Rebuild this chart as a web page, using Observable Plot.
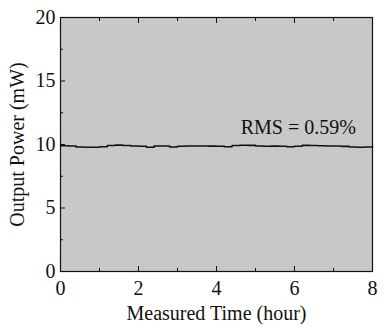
<!DOCTYPE html>
<html>
<head>
<meta charset="utf-8">
<script src="https://cdn.jsdelivr.net/npm/d3@7"></script>
<script src="https://cdn.jsdelivr.net/npm/@observablehq/plot@0.6"></script>
<style>
  html, body { margin: 0; padding: 0; background: #fff; }
  #chart svg { display: block; }
</style>
</head>
<body>
<div id="chart"></div>
<script>
// Measured time (hours) and output power (mW)
const timeHours = [0, 0.2, 0.4, 0.6, 0.8, 1.0, 1.2, 1.4, 1.6, 1.8, 2.0, 2.2, 2.4, 2.6, 2.8, 3.0, 3.2, 3.4, 3.6, 3.8, 4.0,
  4.2, 4.4, 4.6, 4.8, 5.0, 5.2, 5.4, 5.6, 5.8, 6.0, 6.2, 6.4, 6.6, 6.8, 7.0, 7.2, 7.4, 7.6, 7.8, 8.0];
const powerMW = [9.9, 9.88, 9.8, 9.78, 9.78, 9.82, 9.92, 9.95, 9.92, 9.88, 9.86, 9.78, 9.88, 9.88, 9.8, 9.86, 9.88, 9.88, 9.88, 9.87, 9.86,
  9.82, 9.92, 9.94, 9.93, 9.88, 9.86, 9.87, 9.86, 9.82, 9.86, 9.93, 9.92, 9.9, 9.88, 9.88, 9.85, 9.8, 9.78, 9.8, 9.88];

const xMajorTicks = [0, 2, 4, 6, 8];
const xMinorTicks = [1, 3, 5, 7];
const yMajorTicks = [0, 5, 10, 15, 20];
const yMinorTicks = [2.5, 7.5, 12.5, 17.5];

const annotationText = ["RMS = 0.59%"];
const annotationX = [4.62];
const annotationY = [11.3];

const data = timeHours.map((t, i) => ({t, p: powerMW[i]}));
const notes = annotationText.map((s, i) => ({s, x: annotationX[i], y: annotationY[i]}));

const FONT = "Liberation Serif";

const chart = Plot.plot({
  width: 390,
  height: 330,
  marginLeft: 60,
  marginRight: 18,
  marginTop: 17,
  marginBottom: 59,
  style: {fontSize: "20px", color: "#111", background: "#fff"},
  x: {domain: [0, 8]},
  y: {domain: [0, 20]},
  marks: [
    Plot.frame({fill: "#c8c8c8", stroke: "none"}),
    Plot.line(data, {x: "t", y: "p", stroke: "#111", strokeWidth: 1.6, curve: "step-after"}),
    Plot.text(notes, {x: "x", y: "y", text: "s", textAnchor: "start", fill: "#111", fontSize: 20, fontFamily: FONT}),
    Plot.axisX({anchor: "bottom", ticks: xMajorTicks, tickSize: -5, tickPadding: 14, tickFormat: d => d,
      label: "Measured Time (hour)", labelAnchor: "center", labelArrow: "none", labelOffset: 48, fontSize: 20, fontFamily: FONT}),
    Plot.axisX({anchor: "bottom", ticks: xMinorTicks, tickSize: -3, tickFormat: () => "", label: null}),
    Plot.axisX({anchor: "top", ticks: xMajorTicks, tickSize: -5, tickFormat: () => "", label: null}),
    Plot.axisX({anchor: "top", ticks: xMinorTicks, tickSize: -3, tickFormat: () => "", label: null}),
    Plot.axisY({anchor: "left", ticks: yMajorTicks, tickSize: -5, tickPadding: 10, tickFormat: d => d,
      label: "Output Power (mW)", labelAnchor: "center", labelArrow: "none", labelOffset: 51, fontSize: 20, fontFamily: FONT}),
    Plot.axisY({anchor: "left", ticks: yMinorTicks, tickSize: -3, tickFormat: () => "", label: null}),
    Plot.frame({stroke: "#111", strokeWidth: 1.2})
  ]
});
chart.querySelectorAll("text").forEach(t => { t.style.fontFamily = FONT; t.setAttribute("font-family", FONT); });
document.getElementById("chart").appendChild(chart);
</script>
</body>
</html>
